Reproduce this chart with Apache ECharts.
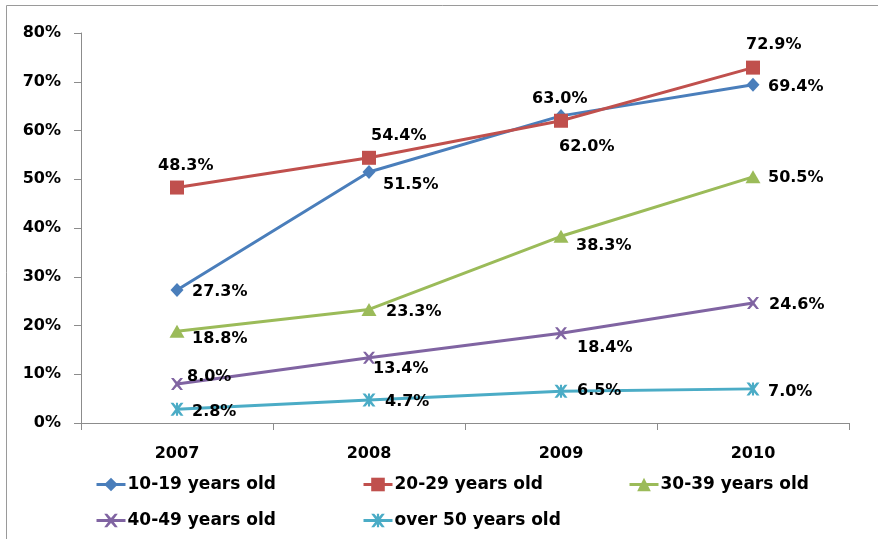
<!DOCTYPE html>
<html>
<head>
<meta charset="utf-8">
<style>
  html, body { margin: 0; padding: 0; background: #fff; }
  #chart { width: 878px; height: 539px; }
</style>
<script src="https://cdn.jsdelivr.net/npm/echarts@6/dist/echarts.min.js"></script>
</head>
<body>
<div id="chart"></div>
<script>
// Share of each age group, by year (percent)
const years = ['2007', '2008', '2009', '2010'];
const age10to19 = [27.3, 51.5, 63.0, 69.4];
const age20to29 = [48.3, 54.4, 62.0, 72.9];
const age30to39 = [18.8, 23.3, 38.3, 50.5];
const age40to49 = [8.0, 13.4, 18.4, 24.6];
const age50plus = [2.8, 4.7, 6.5, 7.0];
const groupNames = ['10-19 years old', '20-29 years old', '30-39 years old', '40-49 years old', 'over 50 years old'];

const FONT = 'DejaVu Sans';

// Marker shapes
const crossPath = 'path://M0,0 L2.2,0 L5,3.2 L7.8,0 L10,0 L6.3,5 L10,10 L7.8,10 L5,6.8 L2.2,10 L0,10 L3.7,5 Z';
const starPath = 'path://M0,0 L2.2,0 L5,3.2 L7.8,0 L10,0 L6.3,5 L10,10 L7.8,10 L5,6.8 L2.2,10 L0,10 L3.7,5 Z M4.2,0 L5.8,0 L5.8,10 L4.2,10 Z';

// Per-point label placement: [dx, dy] of the label's left/middle from the marker
const labelShift = [
  [[15, 2], [14, 13], [-29, -17], [15, 2]],
  [[-19, -22], [2, -22], [-2, 26], [-7, -23]],
  [[15, 7], [17, 2], [15, 10], [15, 1]],
  [[10, -7], [4, 11], [16, 15], [16, 2]],
  [[15, 2], [16, 2], [16, 0], [15, 3]]
];

const styles = [
  { color: '#4A7EBB', symbol: 'diamond', size: [13, 14] },
  { color: '#C0504D', symbol: 'rect', size: 14 },
  { color: '#9BBB59', symbol: 'triangle', size: [15, 13] },
  { color: '#8064A2', symbol: crossPath, size: 12 },
  { color: '#4BACC6', symbol: starPath, size: 13 }
];

const values = [age10to19, age20to29, age30to39, age40to49, age50plus];

const series = values.map((vals, si) => ({
  name: groupNames[si],
  type: 'line',
  data: vals.map((v, i) => ({
    value: v,
    label: { offset: labelShift[si][i] }
  })),
  symbol: styles[si].symbol,
  symbolSize: styles[si].size,
  lineStyle: { color: styles[si].color, width: 3 },
  itemStyle: { color: styles[si].color, borderWidth: 0 },
  label: {
    show: true,
    position: 'inside',
    align: 'left',
    verticalAlign: 'middle',
    formatter: p => p.value.toFixed(1) + '%',
    color: '#000',
    fontFamily: FONT,
    fontWeight: 'bold',
    fontSize: 16
  },
  emphasis: { disabled: true },
  animation: false
}));

// Legend laid out as a three-column grid
const legendSpots = [
  { left: 95, top: 476 },
  { left: 362, top: 476 },
  { left: 628, top: 476 },
  { left: 95, top: 512 },
  { left: 362, top: 512 }
];
const legends = groupNames.map((name, i) => ({
  data: [name],
  left: legendSpots[i].left,
  top: legendSpots[i].top,
  itemWidth: 29,
  itemHeight: 17,
  padding: 0,
  selectedMode: false,
  lineStyle: { width: 3 },
  textStyle: { fontFamily: FONT, fontWeight: 'bold', fontSize: 17, color: '#000', padding: [0, 0, 0, -3] }
}));

const chart = echarts.init(document.getElementById('chart'), null, { renderer: 'canvas' });
chart.setOption({
  animation: false,
  backgroundColor: '#fff',
  graphic: [{
    type: 'rect',
    shape: { x: 6.5, y: 5.5, width: 900, height: 600 },
    style: { fill: 'none', stroke: '#9a9a9a', lineWidth: 1 },
    silent: true
  }],
  grid: { left: 81, right: 29, top: 33, bottom: 116 },
  legend: legends,
  xAxis: {
    type: 'category',
    data: years,
    boundaryGap: true,
    axisLine: { lineStyle: { color: '#8c8c8c', width: 1 } },
    axisTick: { show: true, length: 7, lineStyle: { color: '#8c8c8c' } },
    axisLabel: { margin: 23, color: '#000', fontFamily: FONT, fontWeight: 'bold', fontSize: 16 }
  },
  yAxis: {
    type: 'value',
    min: 0,
    max: 80,
    interval: 10,
    axisLine: { show: true, lineStyle: { color: '#8c8c8c', width: 1 } },
    axisTick: { show: true, length: 7, lineStyle: { color: '#8c8c8c' } },
    splitLine: { show: false },
    axisLabel: { margin: 20, formatter: '{value}%', color: '#000', fontFamily: FONT, fontWeight: 'bold', fontSize: 16 }
  },
  series: series
});
</script>
</body>
</html>
